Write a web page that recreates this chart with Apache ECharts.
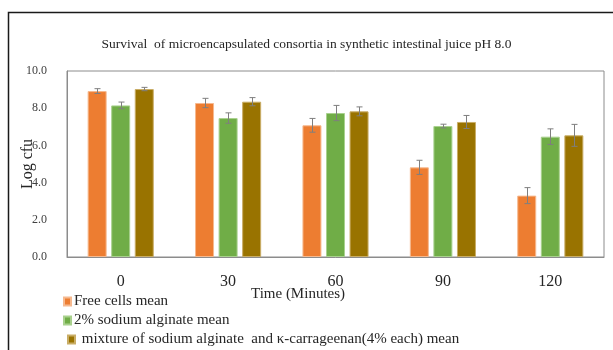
<!DOCTYPE html>
<html>
<head>
<meta charset="utf-8">
<script src="https://cdn.jsdelivr.net/npm/echarts@6/dist/echarts.min.js"></script>
<style>
  html, body { margin: 0; padding: 0; background: #fff; }
  #chart { width: 613px; height: 350px; }
</style>
</head>
<body>
<div id="chart"></div>
<script>
// Time points (minutes)
const categories = ['0', '30', '60', '90', '120'];

// Log cfu means
const freeCells = [8.92, 8.28, 7.08, 4.82, 3.30];
const alginate = [8.15, 7.47, 7.74, 7.04, 6.47];
const mixture = [9.03, 8.35, 7.83, 7.26, 6.54];

// Standard deviations
const freeCellsErr = [0.13, 0.25, 0.37, 0.38, 0.43];
const alginateErr = [0.18, 0.28, 0.41, 0.10, 0.42];
const mixtureErr = [0.09, 0.22, 0.24, 0.35, 0.59];

const seriesNames = ['Free cells mean', '2% sodium alginate mean', ' mixture of sodium alginate  and \u03ba-carrageenan(4% each) mean'];
const colors = ['#ED7D31', '#70AD47', '#997300'];
const borders = ['#f6b98f', '#a9d18e', '#c9ad66'];

const FONT = '"Liberation Serif", "Times New Roman", serif';
const BAR_W = 19;
const BAR_STEP = 23.5;

const chart = echarts.init(document.getElementById('chart'), null, { renderer: 'canvas' });

function barSeries(name, data, idx) {
  return {
    name: name,
    type: 'bar',
    data: data,
    barWidth: BAR_W,
    barGap: '24%',
    itemStyle: { color: colors[idx], borderColor: borders[idx], borderWidth: 1 },
    z: 2
  };
}

function errSeries(means, errs, idx) {
  const offset = (idx - 1) * BAR_STEP;
  return {
    type: 'custom',
    data: means.map((m, i) => [i, m - errs[i], m + errs[i]]),
    z: 5,
    silent: true,
    renderItem: function (params, api) {
      const lo = api.coord([api.value(0), api.value(1)]);
      const hi = api.coord([api.value(0), api.value(2)]);
      const x = Math.round(lo[0] + offset) + 0.5;
      const cap = 3;
      const style = { stroke: '#7f7f7f', lineWidth: 1 };
      return {
        type: 'group',
        children: [
          { type: 'line', shape: { x1: x, y1: hi[1], x2: x, y2: lo[1] }, style: style },
          { type: 'line', shape: { x1: x - cap, y1: hi[1], x2: x + cap, y2: hi[1] }, style: style },
          { type: 'line', shape: { x1: x - cap, y1: lo[1], x2: x + cap, y2: lo[1] }, style: style }
        ]
      };
    }
  };
}

// One legend row per series, stacked below the axis title
function legendRow(i, top, left) {
  return {
    orient: 'horizontal',
    left: left,
    top: top,
    itemWidth: 7,
    itemHeight: 8,
    icon: 'rect',
    data: [seriesNames[i]],
    textStyle: { fontFamily: FONT, fontSize: 15, color: '#262626', padding: [0, 0, 0, -2] }
  };
}

chart.setOption({
  animation: false,
  backgroundColor: '#fff',
  textStyle: { fontFamily: FONT },
  title: {
    text: 'Survival  of microencapsulated consortia in synthetic intestinal juice pH 8.0',
    left: 'center',
    top: 32,
    textStyle: { fontFamily: FONT, fontSize: 13.5, fontWeight: 'normal', color: '#262626' }
  },
  legend: [
    legendRow(0, 289, 58),
    legendRow(1, 308, 58),
    legendRow(2, 327, 62)
  ],
  grid: {
    left: 67, right: 9, top: 71, bottom: 93,
    outerBoundsMode: 'none',
    containLabel: false,
    show: true, borderColor: '#8c8c8c', borderWidth: 1
  },
  xAxis: {
    type: 'category',
    data: categories,
    axisLine: { show: true, lineStyle: { color: '#8c8c8c' } },
    axisTick: { show: false },
    axisLabel: { fontFamily: FONT, fontSize: 16, color: '#262626', margin: 17 }
  },
  yAxis: {
    type: 'value',
    min: 0,
    max: 10,
    interval: 2,
    name: 'Log cfu',
    nameLocation: 'middle',
    nameGap: 31,
    nameMoveOverlap: false,
    nameTextStyle: { fontFamily: FONT, fontSize: 16, color: '#262626' },
    axisLine: { show: true, lineStyle: { color: '#8c8c8c' } },
    axisTick: { show: false },
    splitLine: { show: false },
    axisLabel: {
      fontFamily: FONT, fontSize: 12, color: '#404040', margin: 20,
      formatter: v => v.toFixed(1)
    }
  },
  graphic: [
    {
      type: 'rect',
      shape: { x: 8.5, y: 12.5, width: 700, height: 400 },
      style: { fill: 'none', stroke: '#1a1a1a', lineWidth: 1.5 },
      silent: true,
      z: 0
    },
    {
      type: 'text',
      left: 251,
      top: 287,
      style: { text: 'Time (Minutes)', font: '15px ' + FONT, fill: '#262626' },
      z: 10
    }
  ],
  series: [
    barSeries(seriesNames[0], freeCells, 0),
    barSeries(seriesNames[1], alginate, 1),
    barSeries(seriesNames[2], mixture, 2),
    errSeries(freeCells, freeCellsErr, 0),
    errSeries(alginate, alginateErr, 1),
    errSeries(mixture, mixtureErr, 2)
  ]
});
</script>
</body>
</html>
